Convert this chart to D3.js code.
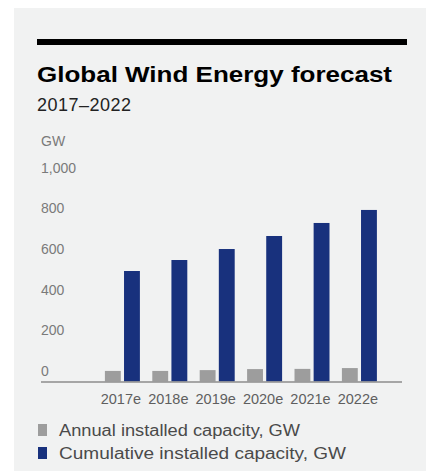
<!DOCTYPE html>
<html>
<head>
<meta charset="utf-8">
<script src="https://cdn.jsdelivr.net/npm/d3@7"></script>
<style>
  body { margin: 0; background: #fff; }
  svg text { font-family: "Liberation Sans", Arial, sans-serif; }
</style>
</head>
<body>
<div id="chart"></div>
<script>
var categories = ["", "2017e", "2018e", "2019e", "2020e", "2021e", "2022e"];
var series = ["Annual installed capacity, GW", "Cumulative installed capacity, GW"];
var annual = [0, 52, 52, 56, 61, 62, 66];
var cumulative = [0, 543, 597, 651, 715, 779, 843];
var yTicks = [0, 200, 400, 600, 800, 1000];

var width = 426;
var height = 471;
var colors = ["#9d9d9d", "#18317d"];

var svg = d3.select("#chart")
  .append("svg")
  .attr("width", width)
  .attr("height", height);

// panel
svg.append("rect")
  .attr("x", 14).attr("y", 8)
  .attr("width", width - 14).attr("height", height - 8)
  .attr("fill", "#f1f2f2");

svg.append("rect")
  .attr("x", 37).attr("y", 39)
  .attr("width", 370).attr("height", 6)
  .attr("fill", "#000");

svg.append("text")
  .attr("x", 37).attr("y", 82)
  .attr("textLength", 355)
  .attr("lengthAdjust", "spacingAndGlyphs")
  .style("font-size", "22px")
  .style("font-weight", "bold")
  .attr("fill", "#000")
  .text("Global Wind Energy forecast");

svg.append("text")
  .attr("x", 37).attr("y", 111)
  .attr("textLength", 94)
  .style("font-size", "18px")
  .attr("fill", "#222")
  .text("2017\u20132022");

svg.append("text")
  .attr("x", 41).attr("y", 146)
  .style("font-size", "14px")
  .attr("fill", "#7a7a7a")
  .text("GW");

var y = d3.scaleLinear().domain([0, 1000]).range([381.5, 178]);

var x0 = d3.scaleBand().domain(categories).range([51.3, 383.1]);
var x1 = d3.scaleBand().domain(series).range([0, 35]).paddingInner(0.17);
var groupOffset = (x0.bandwidth() - 35) / 2;

// y tick labels sit just above their value
svg.append("g")
  .selectAll("text")
  .data(yTicks)
  .enter().append("text")
  .attr("x", 41)
  .attr("y", function(d) { return y(d) - 5.5; })
  .style("font-size", "14px")
  .attr("fill", "#7a7a7a")
  .text(function(d) { return d3.format(",")(d); });

var rows = categories.map(function(c, i) {
  return { cat: c, values: [annual[i], cumulative[i]] };
});

var groups = svg.append("g")
  .selectAll("g")
  .data(rows)
  .enter().append("g")
  .attr("transform", function(d) { return "translate(" + (x0(d.cat) + groupOffset) + ",0)"; });

groups.selectAll("rect")
  .data(function(d) {
    return d.values.map(function(v, j) { return { key: series[j], value: v, j: j }; });
  })
  .enter().append("rect")
  .attr("x", function(d) { return x1(d.key); })
  .attr("width", x1.bandwidth())
  .attr("y", function(d) { return y(d.value); })
  .attr("height", function(d) { return y(0) - y(d.value); })
  .attr("fill", function(d) { return colors[d.j]; });

// axis line
svg.append("line")
  .attr("x1", 41).attr("x2", 402)
  .attr("y1", y(0) + 0.5).attr("y2", y(0) + 0.5)
  .attr("stroke", "#8c8c8c")
  .attr("stroke-width", 1.5);

svg.append("g")
  .selectAll("text")
  .data(categories.filter(function(c) { return c !== ""; }))
  .enter().append("text")
  .attr("x", function(d) { return x0(d) + x0.bandwidth() / 2 - 1.5; })
  .attr("y", 403.5)
  .attr("text-anchor", "middle")
  .style("font-size", "14.5px")
  .attr("fill", "#5f5f5f")
  .text(function(d) { return d; });

// legend
var legend = svg.append("g")
  .selectAll("g")
  .data(series)
  .enter().append("g")
  .attr("transform", function(d, i) { return "translate(38," + (424 + i * 23) + ")"; });

legend.append("rect")
  .attr("width", 9).attr("height", 12)
  .attr("fill", function(d, i) { return colors[i]; });

legend.append("text")
  .attr("x", 21).attr("y", 11.7)
  .attr("textLength", function(d, i) { return i === 0 ? 241 : 287; })
  .attr("lengthAdjust", "spacingAndGlyphs")
  .style("font-size", "16px")
  .attr("fill", "#4a4a4a")
  .text(function(d) { return d; });
</script>
</body>
</html>
